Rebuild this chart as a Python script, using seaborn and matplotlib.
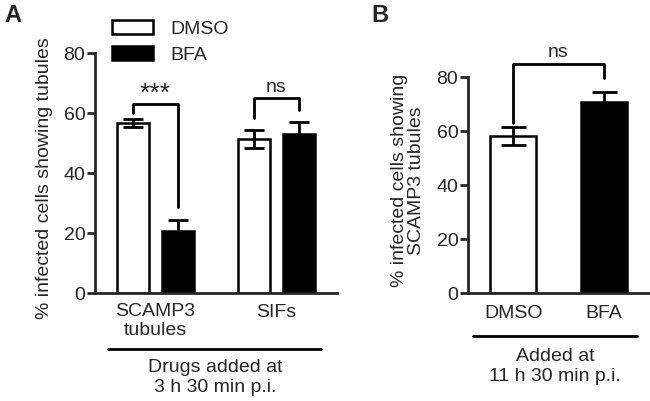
import numpy as np
import pandas as pd
import matplotlib
matplotlib.use('Agg')
import matplotlib.pyplot as plt
import matplotlib.transforms as mtrans
import seaborn as sns

# ── Data ──
GROUPS_A    = ['SCAMP3\ntubules', 'SIFs']
TREATMENTS  = ['DMSO', 'BFA']
DMSO_A      = [56.7, 51.3]
DMSO_A_ERR  = [1.4, 3.0]
BFA_A       = [20.8, 52.9]
BFA_A_ERR   = [3.5, 4.0]

MEAN_B      = [58.1, 70.7]
ERR_B       = [3.4, 3.6]

# brackets: (left group, right group, top, left leg bottom, right leg bottom, text)
BRACKETS_A  = [(0, 0, 63.0, 60.0, 28.7, '***'),
               (1, 1, 65.0, 58.3, 61.0, 'ns')]
BRACKET_B   = (84.8, 63.0, 79.6, 'ns')

COLORS      = {'DMSO': 'white', 'BFA': 'black'}

# ── Style ──
sns.set_theme(style='ticks')
plt.rcParams['font.family'] = ['Liberation Sans', 'DejaVu Sans']
LW = 2.0
plt.rcParams['axes.linewidth'] = LW
plt.rcParams['xtick.major.width'] = LW
plt.rcParams['ytick.major.width'] = LW
plt.rcParams['ytick.major.size'] = 6
FS = 14

fig = plt.figure(figsize=(6.5, 4.01), dpi=100)
axA = fig.add_axes([95 / 650, 1 - 293 / 401, 242 / 650, 240 / 401])
axB = fig.add_axes([468 / 650, 1 - 293 / 401, 181 / 650, 216 / 401])

# ─────────────────────────────────────────────
# PANEL A
# ─────────────────────────────────────────────
df_a = pd.DataFrame({
    'group': GROUPS_A * 2,
    'treatment': ['DMSO'] * 2 + ['BFA'] * 2,
    'value': DMSO_A + BFA_A,
})
sns.barplot(data=df_a, x='group', y='value', hue='treatment', order=GROUPS_A,
            hue_order=TREATMENTS, palette=COLORS, width=0.74, gap=0.30,
            edgecolor='black', linewidth=1.8, errorbar=None, ax=axA)

off = 0.185
xa = np.arange(len(GROUPS_A))
axA.errorbar(xa - off, DMSO_A, yerr=DMSO_A_ERR, fmt='none', ecolor='black',
             elinewidth=LW, capsize=7, capthick=LW, zorder=1)
axA.errorbar(xa + off, BFA_A, yerr=BFA_A_ERR, fmt='none', ecolor='black',
             elinewidth=LW, capsize=7, capthick=LW, zorder=1)

for gl, gr, top, yl, yr, txt in BRACKETS_A:
    x1, x2 = gl - off, gr + off
    axA.plot([x1, x1, x2, x2], [yl, top, top, yr], color='black', lw=LW,
             clip_on=False)
    fs = 19 if txt == '***' else FS
    dy = -0.6 if txt == '***' else 0.8
    axA.text((x1 + x2) / 2, top + dy, txt, ha='center', va='bottom', fontsize=fs)

axA.set_xlim(-0.5, 1.5)
axA.set_ylim(0, 80)
axA.set_yticks([0, 20, 40, 60, 80])
axA.tick_params(axis='y', labelsize=FS, pad=1)
axA.tick_params(axis='x', length=0, labelbottom=False)
axA.set_xlabel('')
axA.set_ylabel('% infected cells showing tubules', fontsize=FS)
axA.yaxis.set_label_coords(-0.175, 0.48)
sns.despine(ax=axA)

trA = mtrans.blended_transform_factory(axA.transData, axA.transAxes)
axA.text(0, -0.117, GROUPS_A[0], transform=trA, ha='center', va='center',
         fontsize=FS, linespacing=1.1)
axA.text(1, -0.081, GROUPS_A[1], transform=trA, ha='center', va='center', fontsize=FS)
axA.plot([0.054, 0.934], [-0.233, -0.233], transform=axA.transAxes,
         color='black', lw=LW, clip_on=False)
axA.text(0.496, -0.352, 'Drugs added at\n3 h 30 min p.i.', transform=axA.transAxes,
         ha='center', va='center', fontsize=FS, linespacing=1.25)

handles, labels = axA.get_legend_handles_labels()
axA.legend(handles, labels, loc='upper left', bbox_to_anchor=(112 / 650, 1 - 20 / 401),
           bbox_transform=fig.transFigure, frameon=False, fontsize=FS,
           handlelength=2.1, handleheight=0.7, handletextpad=0.9,
           labelspacing=0.45, borderpad=0, borderaxespad=0)

# ─────────────────────────────────────────────
# PANEL B
# ─────────────────────────────────────────────
df_b = pd.DataFrame({'treatment': TREATMENTS, 'value': MEAN_B})
sns.barplot(data=df_b, x='treatment', y='value', hue='treatment', order=TREATMENTS,
            palette=COLORS, width=0.51, edgecolor='black', linewidth=1.8,
            errorbar=None, legend=False, ax=axB)
xb = np.arange(len(TREATMENTS))
axB.errorbar(xb, MEAN_B, yerr=ERR_B, fmt='none', ecolor='black',
             elinewidth=LW, capsize=9, capthick=LW, zorder=1)

top, yl, yr, txt = BRACKET_B
axB.plot([0, 0, 1, 1], [yl, top, top, yr], color='black', lw=LW, clip_on=False)
axB.text(0.5, top + 1.0, txt, ha='center', va='bottom', fontsize=FS)

axB.set_xlim(-0.5, 1.5)
axB.set_ylim(0, 80)
axB.set_yticks([0, 20, 40, 60, 80])
axB.tick_params(axis='y', labelsize=FS, pad=1)
axB.tick_params(axis='x', length=0, labelbottom=False)
axB.set_xlabel('')
axB.set_ylabel('% infected cells showing\nSCAMP3 tubules', fontsize=FS, linespacing=1.0)
axB.yaxis.set_label_coords(-0.235, 0.52)
sns.despine(ax=axB)

trB = mtrans.blended_transform_factory(axB.transData, axB.transAxes)
for i, t in enumerate(TREATMENTS):
    axB.text(i, -0.093, t, transform=trB, ha='center', va='center', fontsize=FS)
axB.plot([0.028, 0.934], [-0.199, -0.199], transform=axB.transAxes,
         color='black', lw=LW, clip_on=False)
axB.text(0.48, -0.34, 'Added at\n11 h 30 min p.i.', transform=axB.transAxes,
         ha='center', va='center', fontsize=FS, linespacing=1.25)

# ── Panel letters ──
fig.text(4 / 650, 1 - 16 / 401, 'A', fontsize=17, fontweight='bold', va='center')
fig.text(371 / 650, 1 - 16 / 401, 'B', fontsize=17, fontweight='bold', va='center')

fig.savefig('out.png', dpi=100)
